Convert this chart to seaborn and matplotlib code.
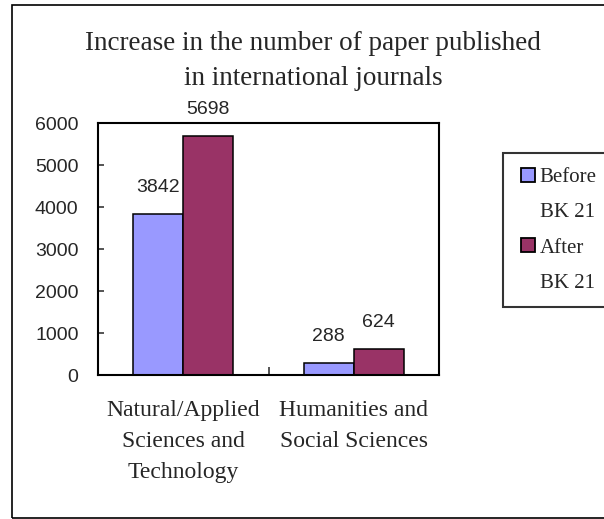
import matplotlib
matplotlib.use("Agg")
import matplotlib.pyplot as plt
import seaborn as sns
import pandas as pd
from matplotlib.patches import Rectangle
from matplotlib.lines import Line2D

categories = ["Natural/Applied\nSciences and\nTechnology", "Humanities and\nSocial Sciences"]
series = ["Before BK 21", "After BK 21"]
legend_lines = [["Before", "BK 21"], ["After", "BK 21"]]
before_vals = [3842, 288]
after_vals = [5698, 624]
yticks = [0, 1000, 2000, 3000, 4000, 5000, 6000]
title = "Increase in the number of paper published\nin international journals"
colors = ["#9999FF", "#993366"]

df = pd.DataFrame({
    "category": categories * 2,
    "series": [series[0]] * 2 + [series[1]] * 2,
    "value": before_vals + after_vals,
})

sns.set_theme(style="white")
plt.rcParams["font.family"] = ["Liberation Serif", "DejaVu Serif"]

fig = plt.figure(figsize=(6.04, 5.19), dpi=100)
ax = fig.add_axes([98 / 604, 1 - 375 / 519, (439 - 98) / 604, (375 - 123) / 519])

sns.barplot(data=df, x="category", y="value", hue="series", palette=colors,
            width=0.586, edgecolor="black", linewidth=1.1, saturation=1,
            legend=False, ax=ax)

ax.set_xlim(-0.5, 1.5)
ax.set_ylim(0, 6000)
ax.set_yticks(yticks)
ax.set_yticklabels([str(v) for v in yticks], fontfamily="Liberation Sans", fontsize=14)
ax.set_xlabel("")
ax.set_ylabel("")

ax.set_xticks([0, 1])
ax.set_xticklabels(categories, fontsize=17, linespacing=1.62)
ax.set_xticks([0.5], minor=True)
ax.tick_params(axis="x", which="major", length=0, pad=18)
ax.tick_params(axis="x", which="minor", direction="in", length=6, width=1.1, bottom=True)
ax.tick_params(axis="y", which="major", direction="in", length=4, width=1.1, left=True, pad=14)

for s in ax.spines.values():
    s.set_visible(True)
    s.set_color("black")
    s.set_linewidth(1.5)

for cont in ax.containers:
    ax.bar_label(cont, padding=13, fontfamily="Liberation Sans", fontsize=14)

handles, labels = [], []
for i, cont in enumerate(ax.containers):
    p = cont.patches[0]
    handles.append(Line2D([], [], linestyle="none", marker="s", markersize=10.5,
                          markerfacecolor=p.get_facecolor(), markeredgecolor="black",
                          markeredgewidth=1.3))
    labels.append(legend_lines[i][0])
    handles.append(Line2D([], [], linestyle="none"))
    labels.append(legend_lines[i][1])

leg = fig.legend(handles, labels, loc="upper left",
                 bbox_to_anchor=(503 / 604, 1 - 153 / 519),
                 frameon=True, fancybox=False, edgecolor="black",
                 fontsize=15, handlelength=1.05, handleheight=0.75,
                 handletextpad=0.03, borderpad=0.68, labelspacing=0.74,
                 borderaxespad=0)
leg.get_frame().set_linewidth(1.5)

fig.text(313 / 604, 1 - 61 / 519, title, ha="center", va="center",
         fontsize=19.5, linespacing=1.55)

fig.patches.append(Rectangle((12 / 604, 1 - 518 / 519), 1.2, (518 - 5) / 519,
                             transform=fig.transFigure, fill=False,
                             edgecolor="black", linewidth=1.2))

fig.savefig("out.png", dpi=100)
